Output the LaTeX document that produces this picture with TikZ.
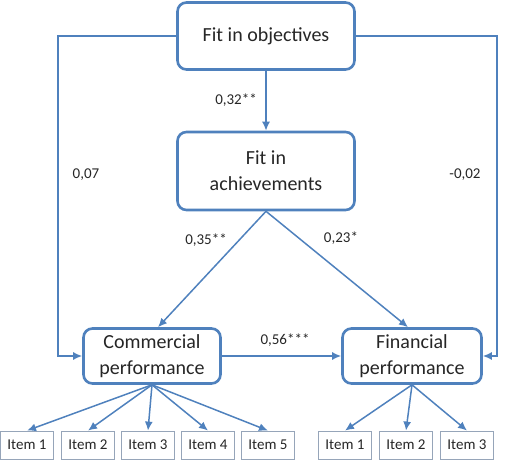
\documentclass[tikz,border=0pt]{standalone}
\usepackage{fontspec}
\setmainfont{Carlito}
\usetikzlibrary{arrows.meta}

\definecolor{boxblue}{RGB}{79,129,189}
\definecolor{itemgray}{RGB}{150,165,185}

\begin{document}
\begin{tikzpicture}[
    x=1pt, y=-1pt,
    construct/.style={rectangle, rounded corners=9pt, draw=boxblue, line width=2.6pt,
        fill=white, align=center, text=black!85, inner sep=2pt,
        font=\fontsize{20}{26}\selectfont},
    indicator/.style={rectangle, draw=itemgray, line width=0.8pt, fill=white,
        minimum width=53pt, minimum height=28pt, inner sep=1pt, text=black!85,
        font=\fontsize{15}{18}\selectfont},
    link/.style={draw=boxblue, line width=1.5pt, -{Latex[length=9pt,width=8pt]}},
    coef/.style={text=black!85, inner sep=0pt, font=\fontsize{15}{18}\selectfont}
    ]
\useasboundingbox (0,0) rectangle (506,462);

% constructs
\node[construct, minimum width=177pt, minimum height=67pt] (obj) at (266,36) {Fit in objectives};
\node[construct, minimum width=177pt, minimum height=78pt] (ach) at (266,171) {Fit in\\achievements};
\node[construct, minimum width=137pt, minimum height=55pt] (com) at (152,356) {Commercial\\performance};
\node[construct, minimum width=139pt, minimum height=55pt] (fin) at (412,356) {Financial\\performance};

% items
\node[indicator] (c1) at (27,445) {Item 1};
\node[indicator] (c2) at (88,445) {Item 2};
\node[indicator] (c3) at (148,445) {Item 3};
\node[indicator] (c4) at (208,445) {Item 4};
\node[indicator] (c5) at (268,445) {Item 5};
\node[indicator] (f1) at (345,445) {Item 1};
\node[indicator] (f2) at (406,445) {Item 2};
\node[indicator] (f3) at (467,445) {Item 3};

\coordinate (lft) at (58,200);
\coordinate (rgt) at (497,200);

% paths
\draw[link] (obj.south) -- (ach.north);
\draw[link] (ach.south) -- ([xshift=6pt]com.north);
\draw[link] (ach.south) -- ([xshift=-4pt]fin.north);
\draw[link] (com.east) -- (fin.west);
\draw[link] (obj.west) -| (lft) |- (com.west);
\draw[link] (obj.east) -| (rgt) |- (fin.east);

\foreach \i in {1,...,5}
    \draw[link] (com.south) -- (c\i.north);
\foreach \i in {1,2,3}
    \draw[link] (fin.south) -- (f\i.north);

% coefficients
\node[coef] (k1) at (236,100) {0,32**};
\node[coef] (k2) at (86,175) {0,07};
\node[coef] (k3) at (465,175) {-0,02};
\node[coef] (k4) at (206,240) {0,35**};
\node[coef] (k5) at (341,238) {0,23*};
\node[coef] (k6) at (285,340) {0,56***};
\end{tikzpicture}
\end{document}
